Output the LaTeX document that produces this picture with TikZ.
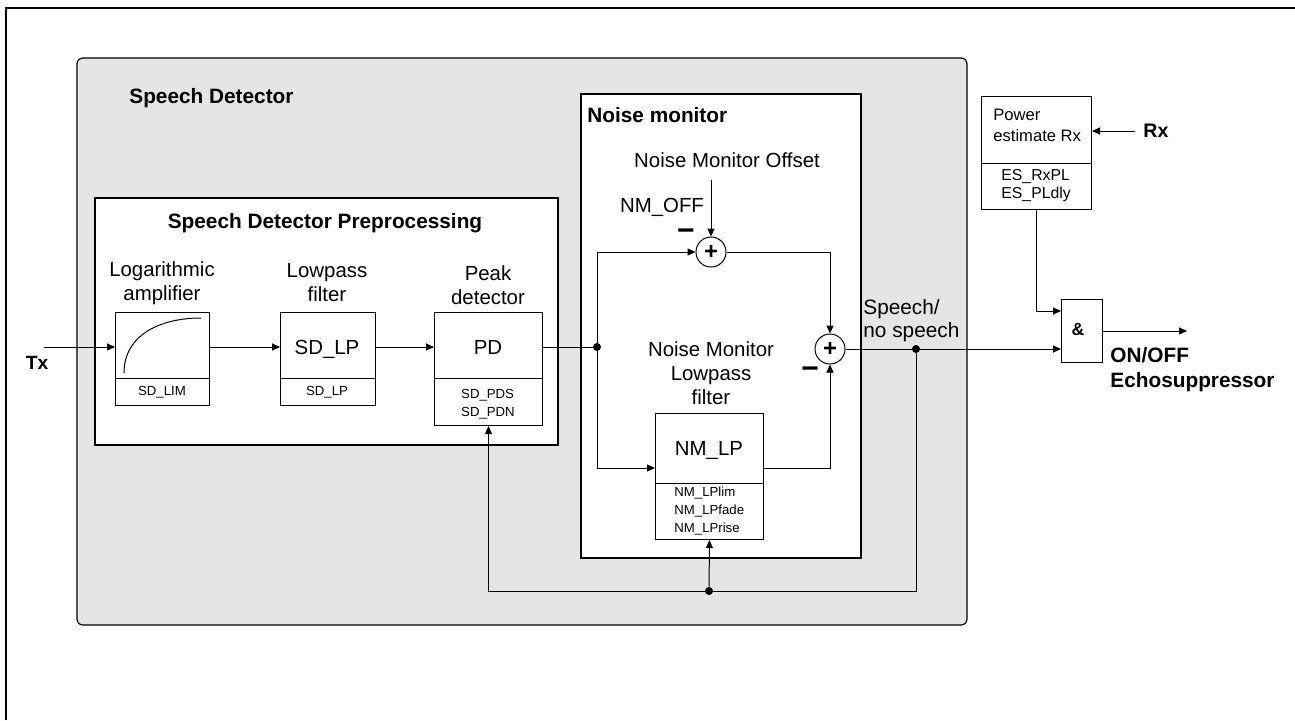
\documentclass[tikz,border=0pt]{standalone}
\usepackage{fontspec}
\setmainfont{Liberation Sans}
\usetikzlibrary{arrows.meta,positioning}

\definecolor{sdgray}{RGB}{229,229,229}
\newcommand{\bigtxt}{\fontsize{10.2}{12}\selectfont}
\newcommand{\headtxt}{\bfseries\fontsize{10.4}{12.5}\selectfont}
\newcommand{\medtxt}{\fontsize{8.3}{10.5}\selectfont}
\newcommand{\estxt}{\fontsize{7.9}{9}\selectfont}
\newcommand{\smalltxt}{\fontsize{6.6}{8.8}\selectfont}

\begin{document}
\begin{tikzpicture}[x=0.5pt, y=-0.5pt,
  wire/.style={line width=0.5pt},
  sig/.style={wire, -{Triangle[length=4pt,width=3.5pt]}},
  blk/.style={draw, fill=white, line width=0.5pt, inner sep=0pt, anchor=north west},
  sum/.style={draw, circle, fill=white, line width=0.5pt, minimum size=15pt, inner sep=0pt, font=\bfseries\fontsize{12}{12}\selectfont},
  dot/.style={circle, fill=black, inner sep=0pt, minimum size=4pt},
  title/.style={font=\headtxt, align=left},
  lbl/.style={font=\bigtxt, align=center},
  parm/.style={font=\smalltxt, align=left},
  minus/.style={font=\bfseries\fontsize{15}{15}\selectfont, inner sep=0pt, text height=5.2pt, text depth=0pt},
  lefttxt/.style={anchor=west, inner xsep=0pt}
]
\useasboundingbox (0,0) rectangle (1295,720);

%% outer frame
\draw[line width=1.3pt] (6,720) -- (6,8) -- (1295,8);

%% speech detector with its two panels
\draw[fill=sdgray, rounded corners=3pt, line width=0.6pt] (77,58) rectangle (967,625);
\draw[fill=white, line width=0.6pt] (95,198) rectangle (558,445);
\draw[fill=white, line width=0.6pt] (581,94) rectangle (861,558);
\path
(129,98) node[title, lefttxt] {Speech Detector}
(325,223) node[title] {Speech Detector Preprocessing}
(587,115) node[title, lefttxt] {Noise monitor};

%% preprocessing chain
\path
(115,312) node[blk, minimum width=47pt, minimum height=46.5pt](logamp){}
(280,312) node[blk, minimum width=47.5pt, minimum height=46.5pt](sdlp){}
(434,312) node[blk, minimum width=54pt, minimum height=56.5pt](pd){};
\draw[wire] (logamp.west |- 0,378) -- (logamp.east |- 0,378);
\draw[wire] (sdlp.west |- 0,378) -- (sdlp.east |- 0,378);
\draw[wire] (pd.west |- 0,378) -- (pd.east |- 0,378);
\draw[wire] (124,373) .. controls (124,335) and (160,318) .. (201,318);
\path
(162,283) node[lbl] {Logarithmic\\amplifier}
(327,283) node[lbl] {Lowpass\\filter}
(488,285) node[lbl] {Peak\\detector}
(327,349) node[lbl] {SD\_LP}
(488,347) node[lbl] {PD}
(162,392) node[parm] {SD\_LIM}
(327,392) node[parm] {SD\_LP}
(488,404) node[parm, font=\fontsize{6.6}{9}\selectfont] {SD\_PDS\\SD\_PDN};

%% noise monitor
\path
(727,160) node[lbl] {Noise Monitor Offset}
(662,207) node[lbl] {NM\_OFF}
(711,373) node[lbl] {Noise Monitor\\Lowpass\\filter}
(655,413) node[blk, minimum width=54pt, minimum height=63pt](nmlp){}
(709,450) node[lbl] {NM\_LP}
(674,511) node[parm, lefttxt] {NM\_LPlim\\NM\_LPfade\\NM\_LPrise}
(711,252) node[sum](sumoff){+}
(830,349) node[sum](sumout){+}
(686,235) node[minus] {−}
(810,373) node[minus] {−};
\draw[wire] (nmlp.west |- 0,483) -- (nmlp.east |- 0,483);

%% echo suppressor control
\path
(981,96) node[blk, minimum width=55pt, minimum height=56.5pt](pwr){}
(993,125) node[lefttxt, align=left, font=\medtxt] {Power\\estimate Rx}
(1001,186) node[lefttxt, align=left, font=\estxt] {ES\_RxPL\\ES\_PLdly}
(1061,299) node[blk, minimum width=20.5pt, minimum height=31.5pt](andg){}
(1078,329) node[font=\bfseries\fontsize{8.8}{8.8}\selectfont] {\&}
(1143,131) node[lefttxt, font=\bfseries\fontsize{9.8}{9.8}\selectfont](rx) {Rx}
(1110,370) node[title, lefttxt] {ON/OFF\\Echosuppressor}
(863,321) node[lbl, lefttxt, align=left, font=\fontsize{10.4}{11.5}\selectfont] {Speech/\\no speech}
(37,363) node[font=\bfseries\fontsize{9.6}{9.6}\selectfont](tx) {Tx};
\draw[wire] (pwr.west |- 0,163) -- (pwr.east |- 0,163);

%% connectors
\coordinate (txin) at (44,347);
\coordinate (offin) at (711,180);
\coordinate (rxin) at (1135,131);
\coordinate (esout) at (1187,331);
\node[dot] (j1) at (597,347) {};
\node[dot] (j2) at (916,349) {};
\node[dot] (j3) at (709,591) {};

\draw[sig] (txin) -- (logamp.west |- txin);
\draw[sig] (logamp.east |- txin) -- (sdlp.west |- txin);
\draw[sig] (sdlp.east |- txin) -- (pd.west |- txin);
\draw[wire] (pd.east |- j1) -- (j1);
\draw[sig] (j1) |- (sumoff.west);
\draw[sig] (j1) |- (nmlp.west |- 0,468);
\draw[sig] (offin) -- (sumoff.north);
\draw[sig] (sumoff.east) -| (sumout.north);
\draw[sig] (nmlp.east |- 0,468) -| (sumout.south);
\draw[sig] (sumout.east) -- (andg.west |- sumout.east);
\draw[sig] (j2) |- (pd.south |- j3) -- (pd.south);
\draw[sig] (j3) -- (nmlp.south);
\draw[sig] (rxin) -- (pwr.east |- rxin);
\draw[sig] (pwr.south) |- (andg.west |- 0,311);
\draw[sig] (andg.east |- esout) -- (esout);

\end{tikzpicture}
\end{document}
